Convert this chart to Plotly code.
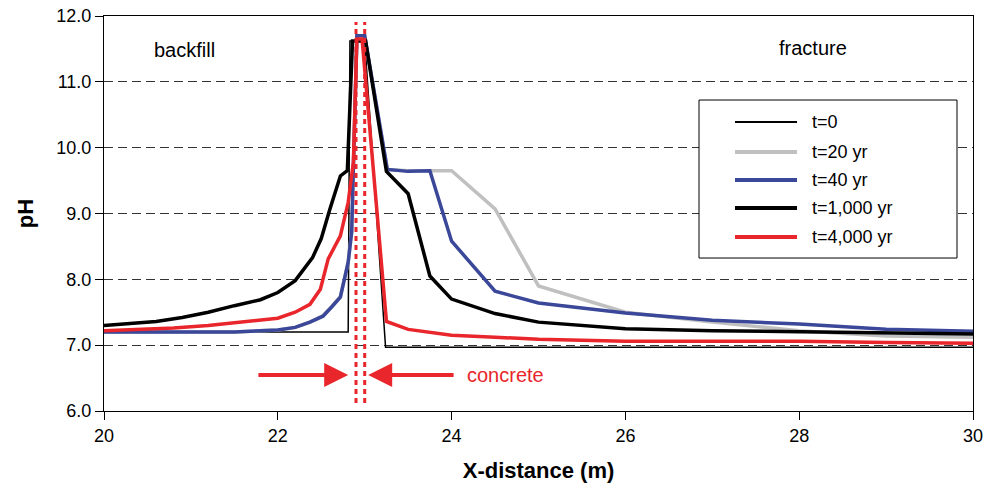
import plotly.graph_objects as go

# ---- data ----
x_t0 = [20.0, 22.81, 22.83, 23.0, 23.24, 30.0]
y_t0 = [7.20, 7.20, 11.62, 11.62, 6.97, 6.97]

x_t20 = [20.0, 20.5, 21.0, 21.5, 22.0, 22.2, 22.37, 22.52, 22.62, 22.72, 22.81, 22.85, 22.91, 23.0,
         23.26, 23.5, 24.0, 24.5, 25.0, 26.0, 27.0, 28.0, 29.0, 30.0]
y_t20 = [7.20, 7.20, 7.20, 7.20, 7.23, 7.27, 7.35, 7.45, 7.59, 7.74, 8.26, 8.72, 11.70, 11.70,
         9.67, 9.65, 9.65, 9.07, 7.90, 7.50, 7.35, 7.22, 7.14, 7.12]

x_t40 = [20.0, 20.5, 21.0, 21.5, 22.0, 22.2, 22.37, 22.52, 22.62, 22.72, 22.81, 22.85, 22.91, 23.0,
         23.26, 23.5, 23.75, 24.0, 24.5, 25.0, 26.0, 27.0, 28.0, 29.0, 30.0]
y_t40 = [7.20, 7.20, 7.20, 7.20, 7.23, 7.27, 7.35, 7.44, 7.58, 7.73, 8.26, 8.72, 11.70, 11.70,
         9.67, 9.64, 9.65, 8.58, 7.82, 7.64, 7.49, 7.38, 7.32, 7.24, 7.21]

x_t1000 = [20.0, 20.3, 20.6, 20.9, 21.2, 21.5, 21.8, 22.0, 22.2, 22.4, 22.5, 22.6, 22.72, 22.8,
           22.86, 23.01, 23.25, 23.5, 23.75, 24.0, 24.5, 25.0, 26.0, 27.0, 28.0, 29.0, 30.0]
y_t1000 = [7.30, 7.33, 7.36, 7.42, 7.50, 7.60, 7.69, 7.80, 7.98, 8.33, 8.62, 9.07, 9.57, 9.65,
           11.62, 11.62, 9.64, 9.30, 8.05, 7.70, 7.48, 7.35, 7.25, 7.22, 7.20, 7.18, 7.17]

x_t4000 = [20.0, 20.4, 20.8, 21.2, 21.6, 22.0, 22.2, 22.37, 22.49, 22.58, 22.72, 22.81, 22.87,
           22.91, 22.97, 23.25, 23.5, 23.75, 24.0, 24.5, 25.0, 26.0, 27.0, 28.0, 29.0, 30.0]
y_t4000 = [7.22, 7.24, 7.26, 7.30, 7.35, 7.41, 7.50, 7.62, 7.85, 8.31, 8.66, 9.17, 9.78,
           11.65, 11.65, 7.36, 7.24, 7.19, 7.15, 7.12, 7.09, 7.06, 7.06, 7.06, 7.04, 7.03]

series_names = ["t=0", "t=20 yr", "t=40 yr", "t=1,000 yr", "t=4,000 yr"]
series_colors = ["#000000", "#c0c0c0", "#3b4799", "#000000", "#e8262b"]
series_widths = [1.5, 3.5, 3.5, 3.5, 3.5]

concrete_x = [22.9, 23.0]
x_ticks = [20, 22, 24, 26, 28, 30]
y_ticks = [6, 7, 8, 9, 10, 11, 12]

FONT = "Arial, 'Liberation Sans', Helvetica, sans-serif"
RED = "#e8262b"

fig = go.Figure()
xs = [x_t0, x_t20, x_t40, x_t1000, x_t4000]
ys = [y_t0, y_t20, y_t40, y_t1000, y_t4000]
for xv, yv, n, c, w in zip(xs, ys, series_names, series_colors, series_widths):
    fig.add_trace(go.Scatter(x=xv, y=yv, mode="lines", name=n, showlegend=False,
                             line=dict(color=c, width=w)))

# dotted concrete boundaries
for cx in concrete_x:
    fig.add_shape(type="line", x0=cx, x1=cx, y0=6.12, y1=11.91, xref="x", yref="y",
                  line=dict(color=RED, width=3, dash="5px,4px"), layer="above")

# arrows + labels
fig.add_annotation(x=22.81, y=6.545, ax=21.76, ay=6.545, xref="x", yref="y", axref="x", ayref="y",
                   showarrow=True, arrowhead=2, arrowsize=1.2, arrowwidth=4,
                   arrowcolor=RED, text="")
fig.add_annotation(x=23.04, y=6.545, ax=24.04, ay=6.545, xref="x", yref="y", axref="x", ayref="y",
                   showarrow=True, arrowhead=2, arrowsize=1.2, arrowwidth=4,
                   arrowcolor=RED, text="")
fig.add_annotation(x=24.15, y=6.55, xref="x", yref="y", text="concrete", showarrow=False,
                   xanchor="left", yanchor="middle", font=dict(color=RED, size=20, family=FONT))
fig.add_annotation(x=20.55, y=11.48, xref="x", yref="y", text="backfill", showarrow=False,
                   xanchor="left", yanchor="middle", font=dict(color="#000", size=20, family=FONT))
fig.add_annotation(x=27.74, y=11.51, xref="x", yref="y", text="fracture", showarrow=False,
                   xanchor="left", yanchor="middle", font=dict(color="#000", size=20, family=FONT))

# custom legend (paper coordinates)
fig.add_shape(type="rect", xref="paper", yref="paper", x0=0.6847, x1=0.9816, y0=0.3873, y1=0.7873,
              line=dict(color="#000", width=1), fillcolor="white", layer="above")
leg_rows = [0.7316, 0.6557, 0.5848, 0.5139, 0.4405]
for ry, n, c, w in zip(leg_rows, series_names, series_colors, series_widths):
    fig.add_shape(type="line", xref="paper", yref="paper", x0=0.7261, x1=0.7975, y0=ry, y1=ry,
                  line=dict(color=c, width=w + 0.5 if w > 2 else 2), layer="above")
    fig.add_annotation(xref="paper", yref="paper", x=0.8124, y=ry, text=n, showarrow=False,
                       xanchor="left", yanchor="middle", font=dict(size=18, family=FONT, color="#000"))

fig.update_layout(
    width=986, height=491,
    margin=dict(l=104, r=13, t=16, b=80),
    paper_bgcolor="white", plot_bgcolor="white",
    font=dict(family=FONT, size=18, color="#000"),
    showlegend=False,
)
fig.update_xaxes(range=[20, 30], tickvals=x_ticks, ticktext=[str(v) for v in x_ticks],
                 showgrid=False, zeroline=False, showline=True, mirror=True, automargin=False,
                 linecolor="#000", linewidth=1, ticks="outside", ticklen=8,
                 tickcolor="#000", tickfont=dict(size=18),
                 title=dict(text="<b>X-distance (m)</b>", font=dict(size=22), standoff=18))
fig.update_yaxes(range=[6, 12], tickvals=y_ticks, ticktext=[f"{v:.1f}" for v in y_ticks],
                 showgrid=True, gridcolor="#333", griddash="9px,5px", gridwidth=1,
                 zeroline=False, showline=True, mirror=True, automargin=False,
                 linecolor="#000", linewidth=1, ticks="outside", ticklen=8,
                 tickcolor="#000", tickfont=dict(size=18),
                 title=dict(text="<b>pH</b>", font=dict(size=22), standoff=16))

fig.write_html("out.html")
